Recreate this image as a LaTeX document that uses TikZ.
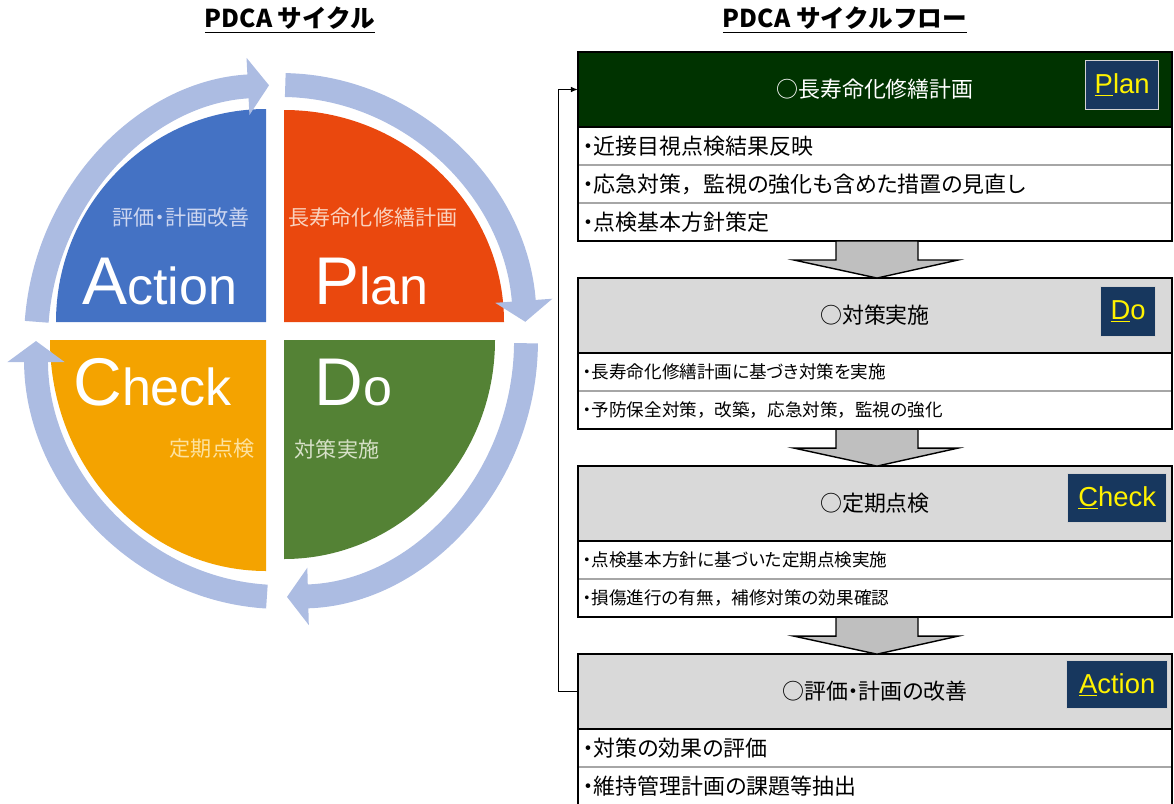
\documentclass[tikz,border=0pt]{standalone}
\usepackage{fontspec}
\setmainfont{Liberation Sans}
\newfontfamily\jp[RawFeature={+palt}]{Noto Sans CJK JP}
\newfontfamily\jpfull{Noto Sans CJK JP}
\usetikzlibrary{positioning,calc,arrows.meta}

\definecolor{actblue}{RGB}{68,114,196}
\definecolor{planred}{RGB}{234,72,14}
\definecolor{checkorange}{RGB}{244,163,0}
\definecolor{dogreen}{RGB}{84,130,53}
\definecolor{ringblue}{RGB}{172,188,226}
\definecolor{headgreen}{RGB}{0,51,0}
\definecolor{headgray}{RGB}{217,217,217}
\definecolor{tagnavy}{RGB}{23,55,94}
\definecolor{arrowgray}{RGB}{191,191,191}

\tikzset{
  titletext/.style={font=\jpfull\bfseries\fontsize{17.5}{20}\selectfont},
  quadtext/.style={text=white, inner sep=0pt},
  subtext/.style={font=\jp\fontsize{15}{18}\selectfont, inner sep=0pt},
  ringarrow/.style={draw=ringblue, line width=17pt, -{Triangle[width=40pt,length=15pt]}},
  flowhead/.style={draw=black, line width=1pt, minimum width=14.85cm, minimum height=1.875cm,
    inner sep=0pt, outer sep=0pt, font=\jp\fontsize{15.6}{18}\selectfont},
  flowrow/.style={minimum width=14.85cm, minimum height=0.95cm, text width=14.6cm,
    inner xsep=0.125cm, inner ysep=0pt, outer sep=0pt, align=left},
  bigrow/.style={flowrow, font=\jp\fontsize{15.6}{18}\selectfont},
  smallrow/.style={flowrow, font=\jp\fontsize{12.5}{14}\selectfont},
  framebox/.style={draw=black, line width=1pt},
  rowsep/.style={draw=gray!70, line width=1pt},
  tagbox/.style={draw=gray!35, line width=0.6pt, fill=tagnavy, text=yellow, inner sep=0pt,
    minimum height=1.225cm, font=\fontsize{19.5}{22}\selectfont},
  flowarrow/.style={fill=arrowgray, draw=black, line width=1pt},
  loopline/.style={draw=black, line width=0.8pt, -{Latex[length=5pt,width=4pt]}}
}

\begin{document}
\begin{tikzpicture}[x=0.025cm, y=-0.025cm]
  \clip (0,0) rectangle (1174,803);

  \node[titletext] (lefttitle) at (290,20) {\underline{PDCA サイクル}};
  \node[titletext] (righttitle) at (845,20) {\underline{PDCA サイクルフロー}};

  % PDCA circle
  \coordinate (ctr) at (281,341);
  \fill[actblue] (266,322) -- (56,322) arc[start angle=180, end angle=270, x radius=210, y radius=213] -- cycle;
  \fill[planred] (284,322) -- (284,110) arc[start angle=270, end angle=360, x radius=220, y radius=212] -- cycle;
  \fill[dogreen] (284,340) -- (495,340) arc[start angle=0, end angle=90, x radius=211, y radius=219] -- cycle;
  \fill[checkorange] (266,340) -- (266,571) arc[start angle=90, end angle=180, x radius=216, y radius=231] -- cycle;
  \foreach \s/\e in {184.3/267.2, 271/355.7, 0.5/88.6, 93.3/180}
    \draw[ringarrow] (ctr) ++(\s:245 and 256) arc[start angle=\s, end angle=\e, x radius=245, y radius=256];

  \node[quadtext, anchor=base west] (acttext) at (82,304) {\fontsize{48}{50}\selectfont A\fontsize{37}{40}\selectfont ction};
  \node[quadtext, anchor=base west] (plantext) at (314,304) {\fontsize{48}{50}\selectfont P\fontsize{37}{40}\selectfont lan};
  \node[quadtext, anchor=base west] (checktext) at (73,405) {\fontsize{48}{50}\selectfont C\fontsize{37}{40}\selectfont heck};
  \node[quadtext, anchor=base west] (dotext) at (314,405) {\fontsize{48}{50}\selectfont D\fontsize{37}{40}\selectfont o};
  \node[subtext, text={rgb,255:red,205;green,214;blue,240}] (actsub) at (181,217) {評価・計画改善};
  \node[subtext, text={rgb,255:red,250;green,210;blue,190}] (plansub) at (373,217) {長寿命化修繕計画};
  \node[subtext, text={rgb,255:red,253;green,226;blue,160}] (checksub) at (212,449) {定期点検};
  \node[subtext, text={rgb,255:red,215;green,225;blue,200}] (dosub) at (337,449) {対策実施};

  % flow
  \node[flowhead, fill=headgreen, text=white] (planhead) at (875,89.5) {○長寿命化修繕計画};
  \node[bigrow, below=0pt of planhead] (plan1) {・近接目視点検結果反映};
  \node[bigrow, below=0pt of plan1] (plan2) {・応急対策{\jpfull ，}監視の強化も含めた措置の見直し};
  \node[bigrow, below=0pt of plan2] (plan3) {・点検基本方針策定};

  \node[flowhead, fill=headgray, below=0.925cm of plan3] (dohead) {○対策実施};
  \node[smallrow, below=0pt of dohead] (do1) {・長寿命化修繕計画に基づき対策を実施};
  \node[smallrow, below=0pt of do1] (do2) {・予防保全対策{\jpfull ，}改築{\jpfull ，}応急対策{\jpfull ，}監視の強化};

  \node[flowhead, fill=headgray, below=0.925cm of do2] (checkhead) {○定期点検};
  \node[smallrow, below=0pt of checkhead] (check1) {・点検基本方針に基づいた定期点検実施};
  \node[smallrow, below=0pt of check1] (check2) {・損傷進行の有無{\jpfull ，}補修対策の効果確認};

  \node[flowhead, fill=headgray, below=0.925cm of check2] (acthead) {○評価・計画の改善};
  \node[bigrow, below=0pt of acthead] (act1) {・対策の効果の評価};
  \node[bigrow, below=0pt of act1] (act2) {・維持管理計画の課題等抽出};

  \draw[rowsep] (plan1.south west) -- (plan1.south east);
  \draw[rowsep] (plan2.south west) -- (plan2.south east);
  \draw[rowsep] (do1.south west) -- (do1.south east);
  \draw[rowsep] (check1.south west) -- (check1.south east);
  \draw[rowsep] (act1.south west) -- (act1.south east);
  \draw[framebox] (planhead.north west) rectangle (plan3.south east);
  \draw[framebox] (dohead.north west) rectangle (do2.south east);
  \draw[framebox] (checkhead.north west) rectangle (check2.south east);
  \draw[framebox] (acthead.north west) rectangle (act2.south east);
  \draw[framebox] (planhead.south west) -- (planhead.south east);

  \node[tagbox, minimum width=1.825cm, anchor=east] (plantag) at ($(planhead.east)+(-13,-5)$) {\underline{P}lan};
  \node[tagbox, minimum width=1.375cm, minimum height=1.25cm, anchor=east] (dotag) at ($(dohead.east)+(-16,-4.5)$) {\underline{D}o};
  \node[tagbox, minimum width=2.475cm, anchor=east] (checktag) at ($(checkhead.east)+(-5,-5.5)$) {\underline{C}heck};
  \node[tagbox, minimum width=2.525cm, minimum height=1.2cm, anchor=east] (acttag) at ($(acthead.east)+(-4,-7)$) {\underline{A}ction};

  \foreach \a/\b in {plan3/dohead, do2/checkhead, check2/acthead}
    \draw[flowarrow] ($(\a.south)+(-39,0)$) -- ++(0,19) -- ++(-42,0) -- ($(\b.north)+(2,0)$)
      -- ($(\a.south)+(83,19)$) -- ++(-40,0) -- ++(0,-19) -- cycle;

  \draw[loopline] (acthead.west) -- ++(-19,0) |- (planhead.west); %back to plan
\end{tikzpicture}
\end{document}
